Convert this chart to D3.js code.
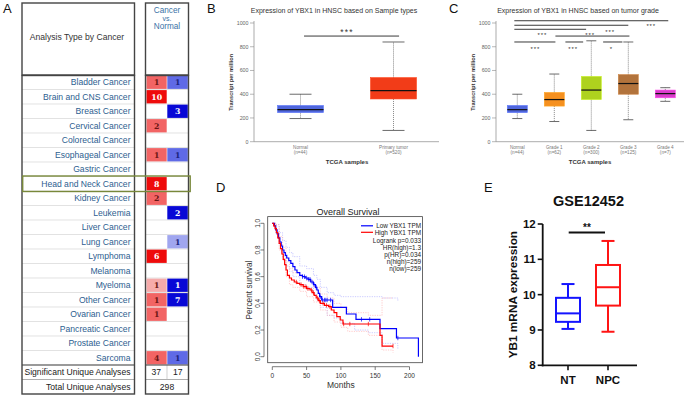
<!DOCTYPE html>
<html>
<head>
<meta charset="utf-8">
<script src="https://cdn.jsdelivr.net/npm/d3@7"></script>
<style>
  body { margin: 0; background: #fff; }
  svg { display: block; font-family: "Liberation Sans", Arial, sans-serif; }
</style>
</head>
<body>
<svg id="fig" width="685" height="397"></svg>
<script>
// ----- Panel A: Oncomine summary -----
const cancers = ["Bladder Cancer", "Brain and CNS Cancer", "Breast Cancer", "Cervical Cancer",
  "Colorectal Cancer", "Esophageal Cancer", "Gastric Cancer", "Head and Neck Cancer",
  "Kidney Cancer", "Leukemia", "Liver Cancer", "Lung Cancer", "Lymphoma", "Melanoma",
  "Myeloma", "Other Cancer", "Ovarian Cancer", "Pancreatic Cancer", "Prostate Cancer", "Sarcoma"];
const upCounts   = [1, 10, 0, 2, 0, 1, 0, 8, 2, 0, 0, 0, 6, 0, 1, 1, 1, 0, 0, 4];
const upRank     = [5, 1, 0, 5, 0, 5, 0, 1, 5, 0, 0, 0, 1, 0, 10, 5, 5, 0, 0, 5];   // gene rank percentile
const downCounts = [1, 0, 3, 0, 0, 1, 0, 0, 0, 2, 0, 1, 0, 0, 1, 7, 0, 0, 0, 1];
const downRank   = [5, 0, 1, 0, 0, 5, 0, 0, 0, 1, 0, 10, 0, 0, 1, 1, 0, 0, 0, 5];
const sigUnique  = [37, 17];
const totalUnique = 298;
const highlighted = "Head and Neck Cancer";

// ----- Panel B: sample types -----
const bGroups = ["Normal", "Primary tumor"];
const bN   = [44, 520];
const bMin = [195, 95];
const bQ1  = [245, 360];
const bMed = [270, 430];
const bQ3  = [305, 540];
const bMax = [400, 840];
const tpmTicks = [0, 200, 400, 600, 800, 1000];

// ----- Panel C: tumor grade -----
const cGroups = ["Normal", "Grade 1", "Grade 2", "Grade 3", "Grade 4"];
const cN   = [44, 62, 300, 125, 7];
const cMin = [195, 170, 95, 185, 340];
const cQ1  = [245, 300, 355, 400, 370];
const cMed = [270, 355, 435, 490, 405];
const cQ3  = [305, 415, 550, 565, 435];
const cMax = [400, 570, 850, 840, 455];
// significance brackets (group index units, TPM)
const cSigFrom      = [-0.08, -0.08, -0.08, 1.03, -0.08, 1.3, 2.32];
const cSigTo        = [4.08, 3.0, 1.86, 3.03, 1.03, 1.78, 2.84];
const cSigLevel     = [1019, 981, 947, 890, 840, 840, 840];
const cSigText      = ["***", "***", "***", "***", "***", "***", "*"];
const cSigTextAt    = [3.62, 2.51, 0.68, 1.97, 0.49, 1.51, 2.54];
const cSigTextLevel = [990, 940, 915, 915, 796, 796, 796];

// ----- Panel D: overall survival -----
const lowMonths = [0, 3, 5, 7, 9, 11, 13, 15, 17, 19, 21, 24, 27, 30, 33, 36, 40, 44, 48, 52,
  56, 60, 63, 65, 67, 69, 72, 88, 108, 122, 157, 181, 213];
const lowSurv = [1, 0.98, 0.95, 0.92, 0.89, 0.86, 0.83, 0.80, 0.78, 0.76, 0.74, 0.72, 0.70,
  0.675, 0.65, 0.63, 0.61, 0.60, 0.59, 0.58, 0.56, 0.54, 0.52, 0.50, 0.475, 0.45, 0.425,
  0.37, 0.32, 0.28, 0.21, 0.14, 0];
const highMonths = [0, 2, 4, 6, 8, 10, 12, 14, 16, 18, 20, 22, 25, 28, 32, 36, 40, 45, 50, 55,
  58, 61, 64, 67, 70, 76, 82, 86, 90, 94, 99, 103, 157, 160, 176];
const highSurv = [1, 0.98, 0.96, 0.93, 0.89, 0.85, 0.81, 0.77, 0.73, 0.69, 0.65, 0.61, 0.59,
  0.575, 0.56, 0.55, 0.54, 0.525, 0.51, 0.50, 0.48, 0.46, 0.44, 0.42, 0.40, 0.385, 0.375,
  0.35, 0.33, 0.30, 0.275, 0.245, 0.16, 0.08, 0.08];
const lowCiMonths = [0, 5, 10, 15, 20, 25, 30, 40, 50, 60, 65, 70, 80, 90, 100, 120, 140, 160, 183];
const lowCiUpper  = [1, 0.99, 0.93, 0.87, 0.82, 0.78, 0.75, 0.68, 0.66, 0.61, 0.58, 0.52, 0.48,
  0.46, 0.45, 0.45, 0.45, 0.44, 0.42];
const lowCiLower  = [1, 0.93, 0.84, 0.75, 0.68, 0.64, 0.60, 0.54, 0.52, 0.47, 0.42, 0.37, 0.31,
  0.29, 0.25, 0.20, 0.18, 0.10, 0.06];
const highCiMonths = [0, 5, 10, 15, 20, 25, 30, 40, 50, 60, 70, 80, 90, 100, 110, 140, 160, 176];
const highCiUpper  = [1, 0.99, 0.90, 0.82, 0.71, 0.66, 0.63, 0.60, 0.57, 0.52, 0.47, 0.44, 0.40,
  0.37, 0.33, 0.31, 0.44, 0.44];
const highCiLower  = [1, 0.94, 0.80, 0.72, 0.60, 0.54, 0.52, 0.49, 0.45, 0.41, 0.35, 0.31, 0.26,
  0.22, 0.19, 0.16, 0.05, 0.03];
const lowCensor  = [44, 47, 50, 53, 55, 58, 61, 64, 70, 73, 76, 78, 80, 85, 130, 142, 183];
const highCensor = [35, 42, 46, 49, 52, 57, 60, 66, 69, 74, 79, 84, 104, 113, 140, 176];
const survStats = ["Logrank p=0.033", "HR(high)=1.3", "p(HR)=0.034", "n(high)=259", "n(low)=259"];
const monthTicks = [0, 50, 100, 150, 200];
const survTicks = [0, 0.2, 0.4, 0.6, 0.8, 1.0];

// ----- Panel E: GSE12452 -----
const eGroups = ["NT", "NPC"];
const eMin = [9.03, 8.95];
const eQ1  = [9.23, 9.69];
const eMed = [9.47, 10.21];
const eQ3  = [9.91, 10.84];
const eMax = [10.30, 11.52];
const eTicks = [8, 9, 10, 11, 12];

const svg = d3.select("#fig");

// ---------- panel letters ----------
function panelLetter(txt, x, y) {
  svg.append("text").attr("x", x).attr("y", y)
    .attr("font-size", 13).attr("fill", "#111").text(txt);
}

// ---------- Panel A ----------
function drawPanelA() {
  const g = svg.append("g");
  const L = 22, R = 134.5, CL = 145.5, CR = 188.5, CM = 167;
  const rowY = d3.scaleBand().domain(cancers).range([75, 365]);
  const rh = rowY.bandwidth();
  const sigTop = 365, totTop = 379.5, bottom = 394;

  const redScale  = d3.scaleOrdinal().domain([1, 5, 10]).range(["#ee0b0b", "#f26464", "#f6abab"]);
  const blueScale = d3.scaleOrdinal().domain([1, 5, 10]).range(["#0808d6", "#5f6ae6", "#a0a6ef"]);

  // row separators
  cancers.forEach(c => {
    const y = rowY(c) + rh;
    g.append("line").attr("x1", L).attr("x2", R).attr("y1", y).attr("y2", y)
      .attr("stroke", "#d6d6d6").attr("stroke-width", 0.7);
    g.append("line").attr("x1", CL).attr("x2", CR).attr("y1", y).attr("y2", y)
      .attr("stroke", "#d6d6d6").attr("stroke-width", 0.7);
  });
  g.append("line").attr("x1", CL).attr("x2", CR).attr("y1", totTop).attr("y2", totTop)
    .attr("stroke", "#999").attr("stroke-width", 0.8);
  g.append("line").attr("x1", L).attr("x2", R).attr("y1", totTop).attr("y2", totTop)
    .attr("stroke", "#999").attr("stroke-width", 0.8);
  g.append("line").attr("x1", CM).attr("x2", CM).attr("y1", sigTop).attr("y2", totTop)
    .attr("stroke", "#bbb").attr("stroke-width", 0.7);

  // cells
  cancers.forEach((c, i) => {
    const y = rowY(c);
    if (upCounts[i]) {
      g.append("rect").attr("x", CL + 1).attr("y", y + 0.6).attr("width", CM - CL - 1.3)
        .attr("height", rh - 1.2).attr("fill", redScale(upRank[i]));
      g.append("text").attr("x", (CL + CM) / 2 + 0.5).attr("y", y + rh / 2 + 2.8)
        .attr("text-anchor", "middle").attr("font-size", 7.8).attr("font-weight", "bold")
        .attr("font-family", "'DejaVu Serif', serif")
        .attr("fill", upRank[i] === 1 ? "#fff" : "#6a1414").text(upCounts[i]);
    }
    if (downCounts[i]) {
      g.append("rect").attr("x", CM + 0.3).attr("y", y + 0.6).attr("width", CR - CM - 1)
        .attr("height", rh - 1.2).attr("fill", blueScale(downRank[i]));
      g.append("text").attr("x", (CM + CR) / 2).attr("y", y + rh / 2 + 2.8)
        .attr("text-anchor", "middle").attr("font-size", 7.8).attr("font-weight", "bold")
        .attr("font-family", "'DejaVu Serif', serif")
        .attr("fill", downRank[i] === 1 ? "#fff" : "#1a1f7a").text(downCounts[i]);
    }
    g.append("text").attr("x", 130.5).attr("y", y + rh / 2 + 3)
      .attr("text-anchor", "end").attr("font-size", 8.6).attr("fill", "#2d6090").text(c);
  });

  // summary rows
  g.append("text").attr("x", 130.5).attr("y", sigTop + 10.3).attr("text-anchor", "end")
    .attr("font-size", 8.6).attr("fill", "#222").text("Significant Unique Analyses");
  g.append("text").attr("x", 130.5).attr("y", totTop + 10.3).attr("text-anchor", "end")
    .attr("font-size", 8.6).attr("fill", "#222").text("Total Unique Analyses");
  g.append("text").attr("x", (CL + CM) / 2).attr("y", sigTop + 10.3).attr("text-anchor", "middle")
    .attr("font-size", 8.6).attr("fill", "#222").text(sigUnique[0]);
  g.append("text").attr("x", (CM + CR) / 2).attr("y", sigTop + 10.3).attr("text-anchor", "middle")
    .attr("font-size", 8.6).attr("fill", "#222").text(sigUnique[1]);
  g.append("text").attr("x", CM).attr("y", totTop + 10.3).attr("text-anchor", "middle")
    .attr("font-size", 8.6).attr("fill", "#222").text(totalUnique);

  // outer boxes
  [[L, R], [CL, CR]].forEach(([a, b]) => {
    g.append("rect").attr("x", a).attr("y", 3).attr("width", b - a).attr("height", 72)
      .attr("fill", "none").attr("stroke", "#444").attr("stroke-width", 1.4);
    g.append("rect").attr("x", a).attr("y", 75.5).attr("width", b - a).attr("height", bottom - 75.5)
      .attr("fill", "none").attr("stroke", "#444").attr("stroke-width", 1.4);
    g.append("line").attr("x1", a).attr("x2", b).attr("y1", sigTop).attr("y2", sigTop)
      .attr("stroke", "#444").attr("stroke-width", 1.1);
  });

  // header text
  g.append("text").attr("x", 77).attr("y", 40).attr("text-anchor", "middle")
    .attr("font-size", 8.6).attr("fill", "#333").text("Analysis Type by Cancer");
  ["Cancer", "vs.", "Normal"].forEach((t, i) => {
    g.append("text").attr("x", CM).attr("y", 12.5 + i * 8).attr("text-anchor", "middle")
      .attr("font-size", i === 1 ? 7 : 8.2).attr("fill", "#3a72a6").text(t);
  });

  // highlight box
  const hy = rowY(highlighted);
  g.append("rect").attr("x", 22.7).attr("y", hy - 0.5).attr("width", 167.5).attr("height", rh + 1)
    .attr("fill", "none").attr("stroke", "#78883a").attr("stroke-width", 1.4);
}

// ---------- TCGA boxplot panel (B, C) ----------
function drawTcga(opts) {
  const g = svg.append("g");
  const y = d3.scaleLinear().domain([0, 1000]).range([141.7, 23]);
  const xi = d3.scaleLinear().domain([0, opts.groups.length - 1]).range(opts.centers);
  const ax0 = opts.axisX;

  // y axis
  g.append("line").attr("x1", ax0).attr("x2", ax0).attr("y1", y(1000) - 2).attr("y2", y(0))
    .attr("stroke", "#888").attr("stroke-width", 0.7);
  g.append("line").attr("x1", ax0).attr("x2", opts.axisEnd).attr("y1", y(0)).attr("y2", y(0))
    .attr("stroke", "#888").attr("stroke-width", 0.7);
  tpmTicks.forEach(t => {
    g.append("line").attr("x1", ax0 - 4).attr("x2", ax0).attr("y1", y(t)).attr("y2", y(t))
      .attr("stroke", "#888").attr("stroke-width", 0.6);
    g.append("text").attr("x", ax0 - 5.5).attr("y", y(t) + 1.8).attr("text-anchor", "end")
      .attr("font-size", 5.3).attr("fill", "#666").text(t);
  });
  g.append("text").attr("transform", `translate(${ax0 - 21.5},${y(500)}) rotate(-90)`)
    .attr("text-anchor", "middle").attr("font-size", 5.6).attr("font-weight", "bold")
    .attr("fill", "#333").text("Transcript per million");

  // boxes
  opts.groups.forEach((grp, i) => {
    const cx = xi(i), bw = opts.boxW, cw = opts.capW;
    g.append("line").attr("x1", cx).attr("x2", cx).attr("y1", y(opts.q3[i])).attr("y2", y(opts.max[i]))
      .attr("stroke", "#555").attr("stroke-width", 0.7).attr("stroke-dasharray", "1,1");
    g.append("line").attr("x1", cx).attr("x2", cx).attr("y1", y(opts.q1[i])).attr("y2", y(opts.min[i]))
      .attr("stroke", "#555").attr("stroke-width", 0.7).attr("stroke-dasharray", "1,1");
    [opts.max[i], opts.min[i]].forEach(v => {
      g.append("line").attr("x1", cx - cw / 2).attr("x2", cx + cw / 2).attr("y1", y(v)).attr("y2", y(v))
        .attr("stroke", "#444").attr("stroke-width", 0.8);
    });
    g.append("rect").attr("x", cx - bw / 2).attr("y", y(opts.q3[i])).attr("width", bw)
      .attr("height", y(opts.q1[i]) - y(opts.q3[i])).attr("fill", opts.colors[i])
      .attr("stroke", d3.color(opts.colors[i]).brighter(0.4)).attr("stroke-width", 0.6);
    g.append("line").attr("x1", cx - bw / 2).attr("x2", cx + bw / 2)
      .attr("y1", y(opts.med[i])).attr("y2", y(opts.med[i]))
      .attr("stroke", "#111").attr("stroke-width", 1.2);
    g.append("text").attr("x", cx).attr("y", 148.5).attr("text-anchor", "middle")
      .attr("font-size", 4.6).attr("fill", "#777").text(grp);
    g.append("text").attr("x", cx).attr("y", 154).attr("text-anchor", "middle")
      .attr("font-size", 4.6).attr("fill", "#777").text(`(n=${opts.n[i]})`);
  });

  // significance
  opts.sigFrom.forEach((f, k) => {
    g.append("line").attr("x1", xi(f)).attr("x2", xi(opts.sigTo[k]))
      .attr("y1", y(opts.sigLevel[k])).attr("y2", y(opts.sigLevel[k]))
      .attr("stroke", "#222").attr("stroke-width", 0.9);
    g.append("text").attr("x", xi(opts.sigTextAt[k]))
      .attr("y", y(opts.sigTextLevel[k]) + opts.starSize * 0.6)
      .attr("text-anchor", "middle").attr("font-size", opts.starSize).attr("fill", "#333")
      .attr("letter-spacing", opts.starSize * 0.15).text(opts.sigText[k]);
  });

  g.append("text").attr("x", opts.titleX).attr("y", 12.5).attr("text-anchor", "middle")
    .attr("font-size", 7).attr("fill", "#333").text(opts.title);
  g.append("text").attr("x", opts.labelX).attr("y", 164).attr("text-anchor", "middle")
    .attr("font-size", 6).attr("font-weight", "bold").attr("fill", "#333").text("TCGA samples");
}

// ---------- Panel D ----------
function drawPanelD() {
  const g = svg.append("g");
  const x = d3.scaleLinear().domain([0, 200]).range([272.3, 409.5]);
  const y = d3.scaleLinear().domain([0, 1]).range([356.7, 223.3]);
  const step = d3.line().x(d => x(d[0])).y(d => y(d[1])).curve(d3.curveStepAfter);
  const pairs = (ms, vs) => ms.map((m, i) => [m, vs[i]]);
  const valueAt = (ms, vs, m) => { let k = 0; ms.forEach((t, i) => { if (t <= m) k = i; }); return vs[k]; };

  // frame
  g.append("rect").attr("x", x(-6.7)).attr("y", y(1.05)).attr("width", x(219) - x(-6.7))
    .attr("height", y(-0.045) - y(1.05)).attr("fill", "none").attr("stroke", "#444").attr("stroke-width", 0.8);

  // confidence bands
  [[lowCiMonths, lowCiUpper, "#a8a8ff"], [lowCiMonths, lowCiLower, "#a8a8ff"],
   [highCiMonths, highCiUpper, "#ffa8a8"], [highCiMonths, highCiLower, "#ffa8a8"]].forEach(([ms, vs, col]) => {
    g.append("path").attr("d", step(pairs(ms, vs))).attr("fill", "none")
      .attr("stroke", col).attr("stroke-width", 0.6).attr("stroke-dasharray", "1.2,1.2");
  });

  // curves
  g.append("path").attr("d", step(pairs(lowMonths, lowSurv))).attr("fill", "none")
    .attr("stroke", "#0000ff").attr("stroke-width", 1.2);
  g.append("path").attr("d", step(pairs(highMonths, highSurv))).attr("fill", "none")
    .attr("stroke", "#ff0000").attr("stroke-width", 1.2);
  [[lowCensor, lowMonths, lowSurv, "#0000ff"], [highCensor, highMonths, highSurv, "#ff0000"]]
    .forEach(([cs, ms, vs, col]) => {
      cs.forEach(m => {
        const v = valueAt(ms, vs, m);
        g.append("line").attr("x1", x(m)).attr("x2", x(m)).attr("y1", y(v) - 2.2).attr("y2", y(v) + 2.2)
          .attr("stroke", col).attr("stroke-width", 0.7);
      });
    });

  // axes
  g.append("line").attr("x1", x(0)).attr("x2", x(200)).attr("y1", 366.7).attr("y2", 366.7)
    .attr("stroke", "#444").attr("stroke-width", 0.7);
  monthTicks.forEach(t => {
    g.append("line").attr("x1", x(t)).attr("x2", x(t)).attr("y1", 366.7).attr("y2", 370)
      .attr("stroke", "#444").attr("stroke-width", 0.7);
    g.append("text").attr("x", x(t)).attr("y", 377.5).attr("text-anchor", "middle")
      .attr("font-size", 6.5).attr("fill", "#333").text(t);
  });
  g.append("line").attr("x1", 264).attr("x2", 264).attr("y1", y(1)).attr("y2", y(0))
    .attr("stroke", "#444").attr("stroke-width", 0.7);
  survTicks.forEach(t => {
    g.append("line").attr("x1", 260.5).attr("x2", 264).attr("y1", y(t)).attr("y2", y(t))
      .attr("stroke", "#444").attr("stroke-width", 0.7);
    g.append("text").attr("transform", `translate(259.5,${y(t)}) rotate(-90)`)
      .attr("text-anchor", "middle").attr("font-size", 6.5).attr("fill", "#333").text(t.toFixed(1));
  });
  g.append("text").attr("x", x(100)).attr("y", 388).attr("text-anchor", "middle")
    .attr("font-size", 8.5).attr("fill", "#333").text("Months");
  g.append("text").attr("transform", `translate(252,${y(0.5)}) rotate(-90)`)
    .attr("text-anchor", "middle").attr("font-size", 8.3).attr("fill", "#333").text("Percent survival");
  g.append("text").attr("x", 348).attr("y", 215).attr("text-anchor", "middle")
    .attr("font-size", 9).attr("fill", "#222").text("Overall Survival");

  // legend
  [["Low YBX1 TPM", "#0000ff"], ["High YBX1 TPM", "#ff0000"]].forEach(([t, col], i) => {
    const ly = 225.8 + i * 6.5;
    g.append("line").attr("x1", 361).attr("x2", 373).attr("y1", ly).attr("y2", ly)
      .attr("stroke", col).attr("stroke-width", 1.2);
    g.append("text").attr("x", 421).attr("y", ly + 2.2).attr("text-anchor", "end")
      .attr("font-size", 6.4).attr("fill", "#222").text(t);
  });
  survStats.forEach((t, i) => {
    g.append("text").attr("x", 421).attr("y", 242.5 + i * 7.1).attr("text-anchor", "end")
      .attr("font-size", 6.4).attr("fill", "#222").text(t);
  });
}

// ---------- Panel E ----------
function drawPanelE() {
  const g = svg.append("g");
  const x = d3.scalePoint().domain(eGroups).range([568, 608]);
  const y = d3.scaleLinear().domain([8, 12]).range([365.3, 224]);
  const colors = ["#1414ff", "#ff1414"];
  const ax = 542.7;

  g.append("line").attr("x1", ax).attr("x2", ax).attr("y1", y(12)).attr("y2", y(8) + 1)
    .attr("stroke", "#111").attr("stroke-width", 1.8);
  g.append("line").attr("x1", ax - 0.9).attr("x2", 637).attr("y1", y(8)).attr("y2", y(8))
    .attr("stroke", "#111").attr("stroke-width", 1.8);
  eTicks.forEach(t => {
    g.append("line").attr("x1", ax - 5).attr("x2", ax).attr("y1", y(t)).attr("y2", y(t))
      .attr("stroke", "#111").attr("stroke-width", 1.6);
    g.append("text").attr("x", ax - 7).attr("y", y(t) + 4).attr("text-anchor", "end")
      .attr("font-size", 11.5).attr("font-weight", "bold").attr("fill", "#111").text(t);
  });
  eGroups.forEach((grp, i) => {
    const cx = x(grp), bw = 24, cw = 13;
    g.append("line").attr("x1", cx).attr("x2", cx).attr("y1", y(8)).attr("y2", y(8) + 5)
      .attr("stroke", "#111").attr("stroke-width", 1.6);
    g.append("text").attr("x", cx).attr("y", 383.5).attr("text-anchor", "middle")
      .attr("font-size", 11.5).attr("font-weight", "bold").attr("fill", "#111").text(grp);
    g.append("line").attr("x1", cx).attr("x2", cx).attr("y1", y(eMax[i])).attr("y2", y(eMin[i]))
      .attr("stroke", colors[i]).attr("stroke-width", 2);
    [eMax[i], eMin[i]].forEach(v => {
      g.append("line").attr("x1", cx - cw / 2).attr("x2", cx + cw / 2).attr("y1", y(v)).attr("y2", y(v))
        .attr("stroke", colors[i]).attr("stroke-width", 2);
    });
    g.append("rect").attr("x", cx - bw / 2).attr("y", y(eQ3[i])).attr("width", bw)
      .attr("height", y(eQ1[i]) - y(eQ3[i])).attr("fill", "#fff")
      .attr("stroke", colors[i]).attr("stroke-width", 2);
    g.append("line").attr("x1", cx - bw / 2).attr("x2", cx + bw / 2).attr("y1", y(eMed[i])).attr("y2", y(eMed[i]))
      .attr("stroke", colors[i]).attr("stroke-width", 2);
  });
  g.append("line").attr("x1", 568.7).attr("x2", 605).attr("y1", y(11.76)).attr("y2", y(11.76))
    .attr("stroke", "#111").attr("stroke-width", 1.8);
  g.append("text").attr("x", 587).attr("y", y(11.76) - 1).attr("text-anchor", "middle")
    .attr("font-size", 10).attr("font-weight", "bold").attr("fill", "#111").text("**");
  g.append("text").attr("x", 588.5).attr("y", 206).attr("text-anchor", "middle")
    .attr("font-size", 14.5).attr("font-weight", "bold").attr("fill", "#111").text("GSE12452");
  g.append("text").attr("transform", `translate(516.5,${y(10)}) rotate(-90)`)
    .attr("text-anchor", "middle").attr("font-size", 11.8).attr("font-weight", "bold")
    .attr("fill", "#111").text("YB1 mRNA expression");
}

drawPanelA();
drawTcga({
  groups: bGroups, n: bN, min: bMin, q1: bQ1, med: bMed, q3: bQ3, max: bMax,
  colors: ["#4f66dc", "#f23c18"], centers: [300.5, 393.5], boxW: 46, capW: 22,
  axisX: 254, axisEnd: 439, titleX: 334, labelX: 347,
  title: "Expression of YBX1 in HNSC based on Sample types",
  sigFrom: [0.038], sigTo: [1.06], sigLevel: [890], sigText: ["***"],
  sigTextAt: [0.5], sigTextLevel: [940], starSize: 8.5
});
drawTcga({
  groups: cGroups, n: cN, min: cMin, q1: cQ1, med: cMed, q3: cQ3, max: cMax,
  colors: ["#4f66dc", "#f5901f", "#aed21e", "#b2733c", "#dc3ccc"],
  centers: [517.3, 665.3], boxW: 20, capW: 10,
  axisX: 496, axisEnd: 684, titleX: 578, labelX: 590,
  title: "Expression of YBX1 in HNSC based on tumor grade",
  sigFrom: cSigFrom, sigTo: cSigTo, sigLevel: cSigLevel, sigText: cSigText,
  sigTextAt: cSigTextAt, sigTextLevel: cSigTextLevel, starSize: 6
});
drawPanelD();
drawPanelE();

panelLetter("A", 3, 13);
panelLetter("B", 207, 13);
panelLetter("C", 449, 13);
panelLetter("D", 216, 192);
panelLetter("E", 484, 192);
</script>
</body>
</html>
